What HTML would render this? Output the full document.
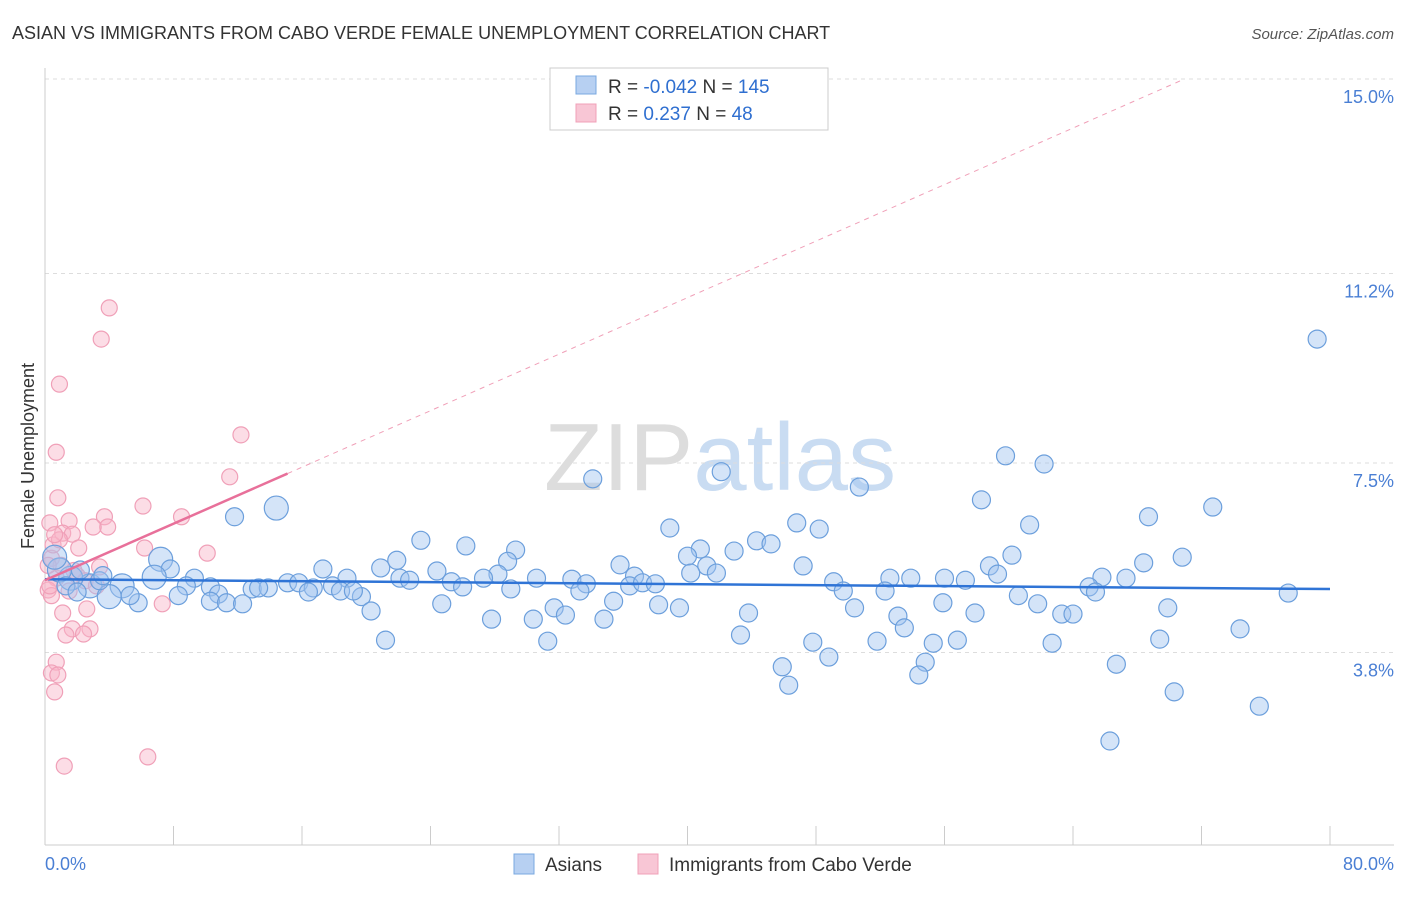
<!DOCTYPE html>
<html><head><meta charset="utf-8"><style>
body{margin:0;background:#fff;font-family:"Liberation Sans",sans-serif}
svg text{font-family:"Liberation Sans",sans-serif}
</style></head><body>
<svg id="chart" width="1406" height="892" viewBox="0 0 1406 892" xmlns="http://www.w3.org/2000/svg">
<text x="12" y="39" font-size="18" fill="#333">ASIAN VS IMMIGRANTS FROM CABO VERDE FEMALE UNEMPLOYMENT CORRELATION CHART</text>
<text x="1394" y="39" font-size="15" fill="#555" font-style="italic" text-anchor="end">Source: ZipAtlas.com</text>
<text x="720" y="490" font-size="96" text-anchor="middle" fill="#ddd" font-family="Liberation Serif"><tspan>ZIP</tspan><tspan fill="#c9dcf2" font-family="Liberation Sans">atlas</tspan></text>
<g id="grid"></g>
<g id="axes"></g>
<g id="marks"></g>
<text transform="translate(34,456) rotate(-90)" font-size="18" fill="#333" text-anchor="middle">Female Unemployment</text>
<text x="45" y="870" font-size="18" fill="#4a7fd4">0.0%</text>
<text x="1394" y="870" font-size="18" fill="#4a7fd4" text-anchor="end">80.0%</text>
<g>
<rect x="550" y="68" width="278" height="62" fill="#fff" stroke="#ccc"/>
<rect x="576" y="76" width="20" height="18" fill="#b7d0f2" stroke="#7aa8e0"/>
<rect x="576" y="104" width="20" height="18" fill="#f8c6d5" stroke="#f0a0b8"/>
<text x="608" y="93" font-size="19" fill="#333">R = <tspan fill="#2f6fd0">-0.042</tspan>   N = <tspan fill="#2f6fd0">145</tspan></text>
<text x="608" y="120" font-size="19" fill="#333">R =   <tspan fill="#2f6fd0">0.237</tspan>   N =   <tspan fill="#2f6fd0">48</tspan></text>
</g>
<g>
<rect x="514" y="854" width="20" height="20" fill="#b7d0f2" stroke="#7aa8e0"/>
<text x="545" y="871" font-size="19" fill="#333">Asians</text>
<rect x="638" y="854" width="20" height="20" fill="#f8c6d5" stroke="#f0a0b8"/>
<text x="669" y="871" font-size="19" fill="#333">Immigrants from Cabo Verde</text>
</g>
</svg>
<script>
const yTicks=[15.0,11.2,7.5,3.8];
const yTickLabels=["15.0%","11.2%","7.5%","3.8%"];
const asianX=[79.2,59.8,62.2,42.1,34.1,50.7,58.3,72.7,68.7,11.8,14.4,38.9,46.8,48.2,61.3,23.4,26.2,29.3,44.3,45.2,42.9,40.8,40.0,60.2,70.8,68.4,21.9,28.8,7.2,7.8,35.8,41.2,47.2,58.8,59.3,36.7,40.2,41.8,17.3,20.9,24.4,28.2,6.8,9.3,18.8,22.1,22.7,27.3,30.6,32.8,52.6,53.9,56.0,57.3,65.8,67.3,8.8,10.3,12.9,13.9,15.1,15.8,16.7,17.9,25.3,26.0,29.0,33.7,33.3,36.4,37.2,38.0,49.1,49.7,52.3,65.0,65.4,77.4,4.8,2.8,1.6,0.9,0.6,4.0,5.8,5.3,8.3,10.8,13.3,16.4,18.4,19.7,19.2,10.3,11.3,12.3,20.3,24.7,31.7,35.4,38.2,39.5,43.8,50.4,53.1,55.9,57.9,60.6,61.8,63.3,64.0,69.9,27.8,30.4,32.4,34.8,21.2,31.3,43.3,47.8,53.5,51.8,55.3,56.8,62.7,69.4,74.4,48.8,45.9,54.8,54.4,46.3,66.7,70.3,75.6,66.3,2.2,3.4,1.3,2.0,3.6];
const asianY=[9.92,7.64,7.48,7.33,7.19,7.03,6.78,6.64,6.45,6.45,6.62,6.23,6.33,6.21,6.29,5.99,5.88,5.80,5.98,5.92,5.78,5.82,5.68,5.70,5.66,5.55,5.60,5.58,5.62,5.43,5.51,5.49,5.49,5.49,5.33,5.29,5.35,5.35,5.43,5.45,5.39,5.33,5.27,5.25,5.25,5.25,5.21,5.25,5.25,5.23,5.25,5.25,5.25,5.21,5.27,5.25,5.10,5.08,5.04,5.06,5.16,5.16,5.06,5.10,5.18,5.08,5.04,5.14,5.00,5.10,5.16,5.14,5.18,5.00,5.00,5.08,4.98,4.96,5.10,5.10,5.25,5.41,5.66,4.89,4.77,4.91,4.91,4.94,5.06,4.98,5.00,4.89,5.00,4.80,4.77,4.75,4.61,4.75,4.67,4.80,4.73,4.67,4.57,4.67,4.51,4.77,4.57,4.91,4.75,4.55,4.55,4.67,4.45,4.45,4.53,4.45,4.04,4.02,4.14,4.00,4.28,4.02,3.98,4.04,3.98,4.06,4.26,3.71,3.52,3.61,3.36,3.16,3.57,3.03,2.75,2.07,5.41,5.20,5.10,4.98,5.30];
const asianBig=[0,0,0,0,0,0,0,0,0,0,1,0,0,0,0,0,0,0,0,0,0,0,0,0,0,0,0,0,1,0,0,0,0,0,0,0,0,0,0,0,0,0,1,0,0,0,0,0,0,0,0,0,0,0,0,0,0,0,0,0,0,0,0,0,0,0,0,0,0,0,0,0,0,0,0,0,0,0,1,1,1,1,1,1];
const caboX=[4.0,3.5,0.9,12.2,0.7,11.5,0.8,6.1,8.5,3.7,1.5,3.9,3.0,0.3,1.1,1.7,2.1,6.2,10.1,0.4,3.4,0.7,0.2,0.4,2.6,1.1,7.3,1.7,2.8,2.4,1.3,0.7,0.4,0.8,0.6,6.4,1.2,0.5,1.0,2.0,0.3,1.5,2.5,0.9,0.2,1.8,0.6,3.2];
const caboY=[10.53,9.92,9.04,8.05,7.71,7.23,6.82,6.66,6.45,6.45,6.37,6.25,6.25,6.33,6.13,6.11,5.84,5.84,5.74,5.64,5.47,5.25,5.02,4.91,4.65,4.57,4.75,4.26,4.26,4.16,4.14,3.61,3.40,3.36,3.03,1.76,1.58,5.9,5.5,5.3,5.1,5.0,5.2,6.0,5.5,5.4,6.1,5.1];
const asianTrend=[5.23,-0.0024];
const caboTrend=[5.21,0.138];
const NS="http://www.w3.org/2000/svg";
const X=v=>45+v*(1285/80);
const Y=v=>79+(15-v)*51.2;
function mk(tag,parent,attrs){const e=document.createElementNS(NS,tag);for(const k in attrs)e.setAttribute(k,attrs[k]);parent.appendChild(e);return e;}
const grid=document.getElementById('grid'),axes=document.getElementById('axes'),marks=document.getElementById('marks');
yTicks.forEach((t,i)=>{
 const l=mk('line',grid,{x1:45,x2:1394,y1:Y(t),y2:Y(t),stroke:'#ddd','stroke-dasharray':'4,4'});
 
 
 const tx=mk('text',grid,{x:1394,y:Y(t)+24,'font-size':18,fill:'#4a7fd4','text-anchor':'end'});
 tx.textContent=yTickLabels[i];
 
 
});
const ax=mk('line',axes,{x1:45,x2:1394,y1:845,y2:845,stroke:'#ccc'});


const ay=mk('line',axes,{x1:45,x2:45,y1:68,y2:845,stroke:'#ccc'});


for(let i=0;i<=10;i++){
 const t=mk('line',axes,{x1:X(i*8),x2:X(i*8),y1:826,y2:845,stroke:'#ccc'});
 
 
}
caboX.forEach((x,i)=>{
 const c=mk('circle',marks,{cx:X(x),cy:Y(caboY[i]),r:8,fill:'rgba(248,180,200,0.45)',stroke:'#f0a0b8','stroke-width':1.2});
 
 
});
asianX.forEach((x,i)=>{
 const c=mk('circle',marks,{cx:X(x),cy:Y(asianY[i]),r:asianBig[i]?12:9,fill:'rgba(160,196,240,0.45)',stroke:'#6c9fdc','stroke-width':1.2});
 
 
});
const bt=mk('line',marks,{x1:X(0),y1:Y(asianTrend[0]),x2:X(80),y2:Y(asianTrend[0]+asianTrend[1]*80),stroke:'#2f74d6','stroke-width':2.5});


const xEnd=(15-caboTrend[0])/caboTrend[1];
const pd=mk('line',marks,{x1:X(15.1),y1:Y(caboTrend[0]+caboTrend[1]*15.1),x2:X(xEnd),y2:Y(15),stroke:'#f0a0b8','stroke-width':1,'stroke-dasharray':'5,5'});


const pt=mk('line',marks,{x1:X(0),y1:Y(caboTrend[0]),x2:X(15.1),y2:Y(caboTrend[0]+caboTrend[1]*15.1),stroke:'#e8709a','stroke-width':2.5});


</script>
</body></html>
